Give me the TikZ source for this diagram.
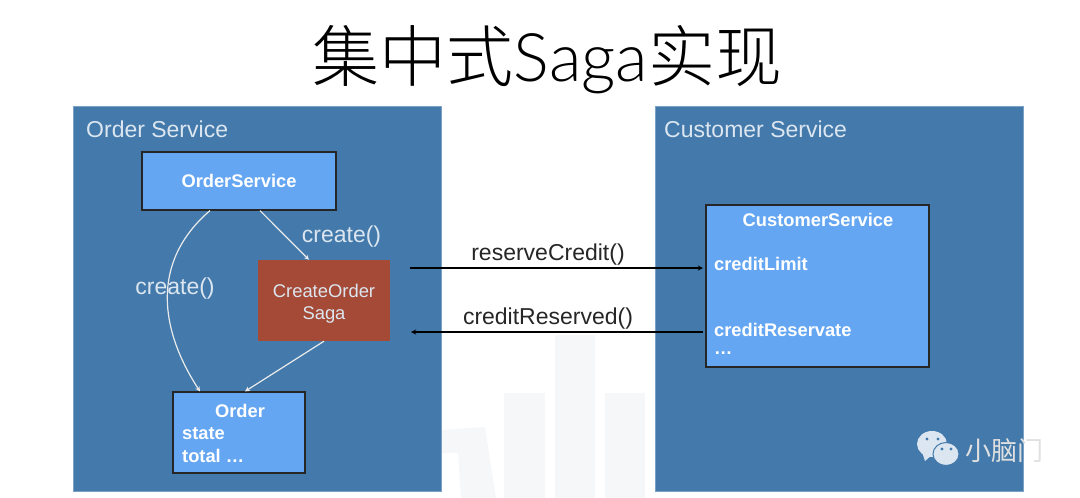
\documentclass[tikz,border=0pt]{standalone}
\usepackage{fontspec}
\setmainfont{Liberation Sans}
\newfontfamily\cjk{Noto Sans CJK SC}
\newfontfamily\cjkthin{Noto Sans CJK SC Light}
\newfontfamily\latinthin{Lato Light}
\definecolor{panelblue}{HTML}{437AAB}
\definecolor{boxblue}{HTML}{64A6F2}
\definecolor{sagared}{HTML}{A54A36}
\definecolor{labelgrey}{HTML}{DCE6F0}
\definecolor{markgrey}{HTML}{F6F7F9}
\tikzset{
    panel/.style={fill=panelblue,draw=panelblue!70!white,line width=0.6pt},
    classbox/.style={fill=boxblue,draw=black!85,line width=1.2pt},
    plain/.style={font=\fontsize{23}{26}\selectfont,text=black!85},
    flow/.style={draw=black,line width=1.3pt,-stealth},
    whiteflow/.style={draw=white!92!black,line width=1.2pt,-stealth},
    boxtext/.style={text=white,font=\fontsize{18.3}{20}\selectfont\bfseries,inner sep=0pt},
    whitetext/.style={text=labelgrey,font=\fontsize{23}{26}\selectfont,inner sep=0pt}
}
\begin{document}
\begin{tikzpicture}[x=1pt,y=-1pt]
    \useasboundingbox (0,0) rectangle (1080,498);
    %% Background mark
    \fill[markgrey] (440,430) -- (485,427) -- (496,498) -- (461,498) -- (458,453) -- (440,453) -- cycle;
    \fill[markgrey] (504,393) rectangle (545,498);
    \fill[markgrey] (555,335) rectangle (595,498);
    \fill[markgrey] (605,393) rectangle (645,498);
    %% Panels
    \draw[panel] (73,106) rectangle (441,491);
    \draw[panel] (655,106) rectangle (1023,491);
    \node[whitetext,anchor=west] (ordertitle) at (86,129) {Order Service};
    \node[whitetext,anchor=west] (customertitle) at (664,129) {Customer Service};
    %% Title
    \node[inner sep=0pt,font=\fontsize{67}{72}\selectfont] (title) at (547.5,60) {{\cjkthin 集中式}{\latinthin Saga}{\cjkthin 实现}};
    %% Boxes
    \node[classbox,boxtext,minimum width=194pt,minimum height=58pt] (orderservice) at (239,181) {OrderService};
    \node[fill=sagared,minimum width=132pt,minimum height=81pt,inner sep=0pt] (saga) at (324,300.5) {};
    \node[classbox,minimum width=132pt,minimum height=81pt] (order) at (239,432.5) {};
    \node[classbox,minimum width=223pt,minimum height=162pt] (customer) at (817.5,286) {};
    %% Box texts
    \node[text=labelgrey,align=center,inner sep=0pt,font=\fontsize{18.4}{22}\selectfont] (saganame) at (324,304) {CreateOrder\\Saga};
    \node[boxtext] (ordername) at (240,411) {Order};
    \node[boxtext,anchor=west] (orderstate) at (182,434) {state};
    \node[boxtext,anchor=west] (ordertotal) at (182,456) {total \dots};
    \node[boxtext] (customername) at (818,220) {CustomerService};
    \node[boxtext,anchor=west] (creditlimit) at (714,264) {creditLimit};
    \node[boxtext,anchor=west] (creditreservate) at (714,330) {creditReservate};
    \node[boxtext,anchor=west] (dots) at (714,353) {\dots};
    %% Calls between services
    \coordinate (sagaout) at (410,268);
    \coordinate (custin) at (703,268);
    \coordinate (custout) at (703,332);
    \coordinate (sagain) at (411,332);
    \draw[flow] (sagaout) -- (custin);
    \draw[flow] (custout) -- (sagain);
    \node[plain] (reserve) at (548,255) {reserveCredit()};
    \node[plain] (reserved) at (548,319) {creditReserved()};
    %% Calls inside order service
    \draw[whiteflow] (orderservice.south -| 260,0) -- (saga.north -| 309,0);
    \draw[whiteflow] (orderservice.south -| 210,0) .. controls (150,262) and (160,330) .. (order.north -| 200,0);
    \draw[whiteflow] (saga.south) -- (order.north -| 245,0);
    \node[whitetext] (createright) at (341.5,237) {create()};
    \node[whitetext] (createleft) at (175,289) {create()};
    %% Watermark
    \fill[labelgrey] (921,449) -- (925,461) -- (932,455) -- cycle;
    \fill[labelgrey] (932,444) ellipse (15 and 13);
    \fill[labelgrey,draw=panelblue,line width=1pt] (946,454) ellipse (13 and 11.5);
    \fill[panelblue] (927,439) circle (1.6) (938,439) circle (1.6) (942,449) circle (1.6) (951,449) circle (1.6);
    \node[inner sep=0pt,text=white!88!black,font=\cjk\fontsize{26}{28}\selectfont] (mark) at (1004,451) {小脑门};
\end{tikzpicture}
\end{document}
